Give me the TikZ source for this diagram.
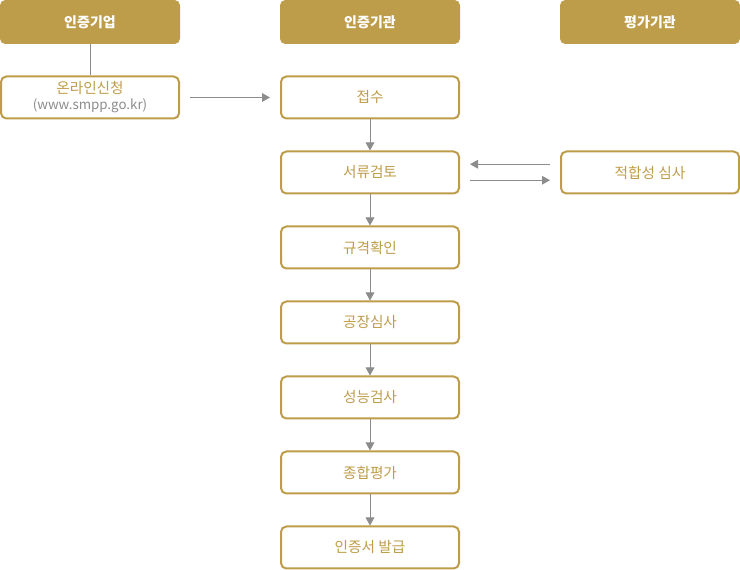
\documentclass[tikz,border=0pt]{standalone}
\usepackage{fontspec}
\setmainfont{Noto Sans CJK KR}
\usetikzlibrary{arrows.meta}
\definecolor{gold}{HTML}{BE9D4A}
\definecolor{linegray}{HTML}{8C8C8C}
\tikzset{
  headbox/.style={fill=gold,rounded corners=4pt,minimum width=135pt,minimum height=33pt,inner sep=0pt,text=white,font=\fontsize{10.5}{12}\selectfont\bfseries},
  stepbox/.style={draw=gold,line width=1.5pt,fill=white,rounded corners=4pt,minimum width=133.5pt,minimum height=31.5pt,inner sep=0pt,text=gold,font=\fontsize{11}{12}\selectfont},
  arr/.style={draw=linegray,line width=0.7pt,-{Triangle[length=6pt,width=6.5pt]}},
  link/.style={draw=linegray,line width=0.7pt}
}
\begin{document}
\begin{tikzpicture}[x=0.75pt,y=-0.75pt]
\useasboundingbox (0,0) rectangle (740,570);

% headers
\node[headbox] (comp) at (90,22) {인증기업};
\node[headbox] (inst) at (370,22) {인증기관};
\node[headbox] (eval) at (650,22) {평가기관};

% company side
\node[stepbox,align=center] (apply) at (90,97.5) {온라인신청\\[0pt]{\color{linegray}\fontsize{10}{11}\selectfont(www.smpp.go.kr)}};
\draw[link] (comp) -- (apply);

% certification steps
\node[stepbox] (s1) at (370,97.5) {접수};
\node[stepbox] (s2) at (370,172.5) {서류검토};
\node[stepbox] (s3) at (370,247.5) {규격확인};
\node[stepbox] (s4) at (370,322.5) {공장심사};
\node[stepbox] (s5) at (370,397.5) {성능검사};
\node[stepbox] (s6) at (370,472.5) {종합평가};
\node[stepbox] (s7) at (370,547.5) {인증서 발급};

\foreach \a/\b in {s1/s2,s2/s3,s3/s4,s4/s5,s5/s6,s6/s7}
  \draw[arr] (\a) -- (\b);

% evaluation
\node[stepbox] (check) at (650,172.5) {적합성 심사};

\draw[arr,shorten <=7.5pt,shorten >=7.5pt] (apply.east) -- (s1.west);
\draw[arr,shorten <=7.5pt,shorten >=7.5pt] ([yshift=6.2pt]check.west) -- ([yshift=6.2pt]s2.east);
\draw[arr,shorten <=7.5pt,shorten >=7.5pt] ([yshift=-5.8pt]s2.east) -- ([yshift=-5.8pt]check.west);
\end{tikzpicture}
\end{document}
